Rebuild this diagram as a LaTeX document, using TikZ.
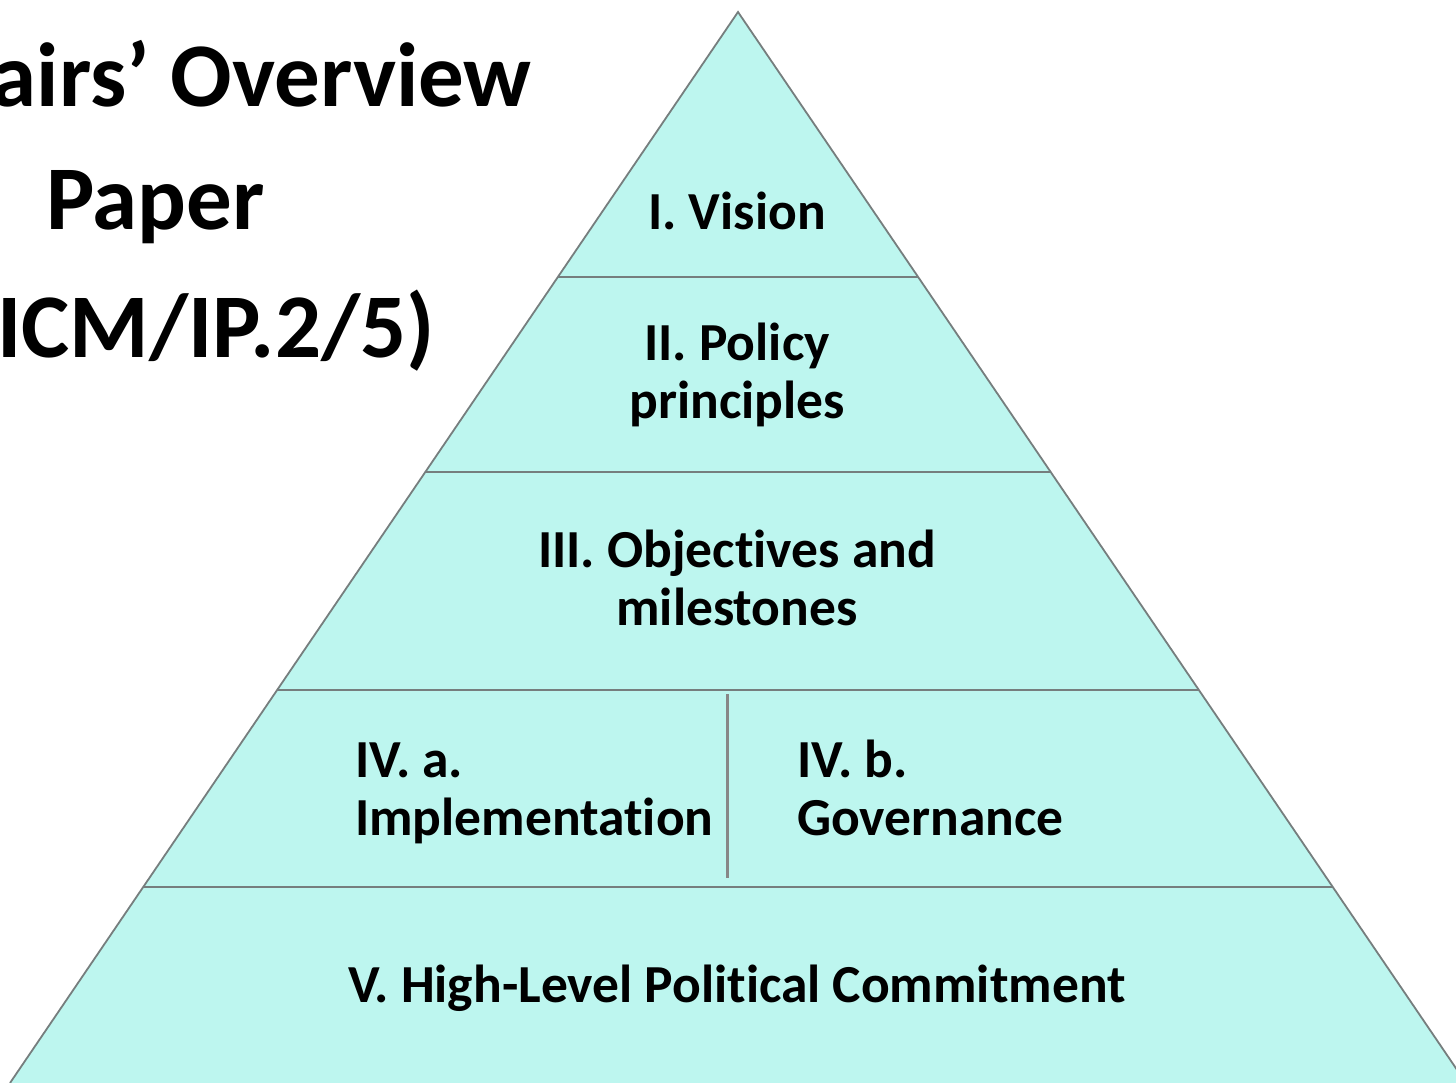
\documentclass[tikz,border=0pt]{standalone}
\usepackage{fontspec}
\setmainfont{Carlito}[RawFeature={-liga}]
\usetikzlibrary{calc}
\definecolor{tierfill}{RGB}{189,246,239}
\definecolor{edgegray}{RGB}{118,126,126}
\definecolor{divgray}{RGB}{135,135,135}
\begin{document}
\begin{tikzpicture}[x=1pt,y=-1pt,
  lbl/.style={font=\fontsize{53.5}{58}\selectfont\bfseries, inner sep=0pt, align=center, anchor=base},
  ttl/.style={font=\fontsize{91}{125}\selectfont\bfseries, inner sep=0pt},
  edge/.style={draw=edgegray, line width=1.8pt, line join=miter},
  tierline/.style={draw=edgegray, line width=2.4pt},
  divider/.style={draw=divgray, line width=3pt}]
\useasboundingbox (0,0) rectangle (1456,1083);
\clip (0,0) rectangle (1456,1083);
\coordinate (apex) at (738,12);
\coordinate (bl) at (10,1083);
\coordinate (br) at (1466,1083);
\fill[tierfill] (apex) -- (bl) -- (br) -- cycle;
\coordinate (L1) at ($(apex)!0.2474!(bl)$);
\coordinate (R1) at ($(apex)!0.2474!(br)$);
\coordinate (L2) at ($(apex)!0.4295!(bl)$);
\coordinate (R2) at ($(apex)!0.4295!(br)$);
\coordinate (L3) at ($(apex)!0.6331!(bl)$);
\coordinate (R3) at ($(apex)!0.6331!(br)$);
\coordinate (L4) at ($(apex)!0.8170!(bl)$);
\coordinate (R4) at ($(apex)!0.8170!(br)$);
\draw[tierline] (L1) -- (R1);
\draw[tierline] (L2) -- (R2);
\draw[tierline] (L3) -- (R3);
\draw[tierline] (L4) -- (R4);
\draw[edge] (bl) -- (apex) -- (br);
\coordinate (dtop) at (727,694);
\coordinate (dbot) at (727,878);
\draw[divider] (dtop) -- (dbot);
% title
\node[ttl, anchor=base east] (t1) at (532,107) {Chairs’ Overview};
\node[ttl, anchor=base west] (t2) at (46,230) {Paper};
\node[ttl, anchor=base east] (t3) at (435,357) {(ICM/IP.2/5)};
% tier labels
\node[lbl] (vision) at (737,230) {I. Vision};
\node[lbl] (policy) at (737,418) {II. Policy\\principles};
\node[lbl] (obj) at (737,625) {III. Objectives and\\milestones};
\node[lbl, align=left, anchor=base west] (impl) at (355,835) {IV. a.\\Implementation};
\node[lbl, align=left, anchor=base west] (gov) at (797,835) {IV. b.\\Governance};
\node[lbl] (commit) at (737,1002) {V. High-Level Political Commitment};
\end{tikzpicture}
\end{document}
